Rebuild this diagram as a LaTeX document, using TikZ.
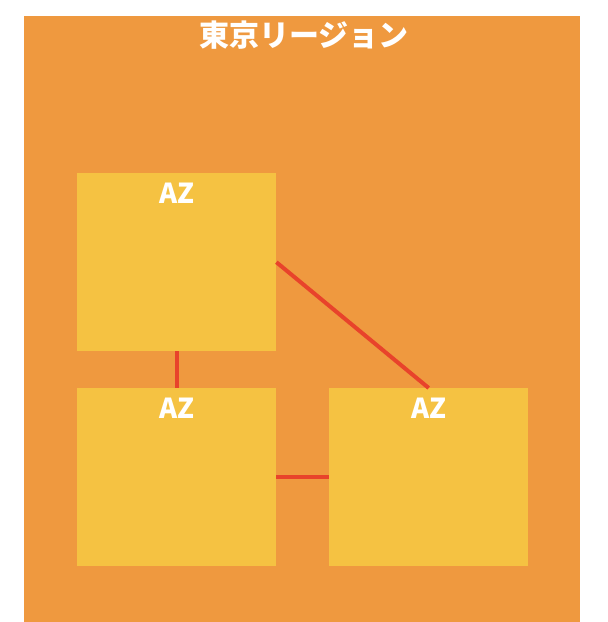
\documentclass[tikz,border=0pt]{standalone}
\usepackage{fontspec}
\usetikzlibrary{calc}
\newfontfamily\jpfont{Noto Sans CJK JP}
\definecolor{regionbg}{HTML}{EF993F}
\definecolor{azbg}{HTML}{F5C242}
\definecolor{linkred}{HTML}{E8432B}
\begin{document}
\begin{tikzpicture}[x=1pt,y=-1pt,
  azbox/.style={fill=azbg, draw=none, minimum width=199pt, minimum height=178pt, inner sep=0pt},
  azlabel/.style={text=white, font=\jpfont\bfseries\fontsize{27.5}{31}\selectfont, inner sep=0pt},
  link/.style={draw=linkred, line width=4pt}]
\useasboundingbox (0,0) rectangle (608,622);
\fill[white] (0,0) rectangle (608,622);
\node[fill=regionbg, minimum width=556pt, minimum height=606pt, inner sep=0pt, anchor=north west] (region) at (24,16) {};
\node[text=white, font=\jpfont\bfseries\fontsize{30}{34}\selectfont, inner sep=0pt] (title) at (304,35.5) {東京リージョン};
\node[azbox, anchor=north west] (top) at (77,173) {};
\node[azbox, anchor=north west] (bl) at (77,388) {};
\node[azbox, anchor=north west] (br) at (329,388) {};
\node[azlabel] (toplab) at ($(top.north)+(0,20)$) {AZ};
\node[azlabel] (bllab) at ($(bl.north)+(0,20)$) {AZ};
\node[azlabel] (brlab) at ($(br.north)+(0,20)$) {AZ};
\draw[link] (top.south) -- (bl.north);
\draw[link] (bl.east) -- (br.west);
\draw[link] (top.east) -- (br.north);
\end{tikzpicture}
\end{document}
